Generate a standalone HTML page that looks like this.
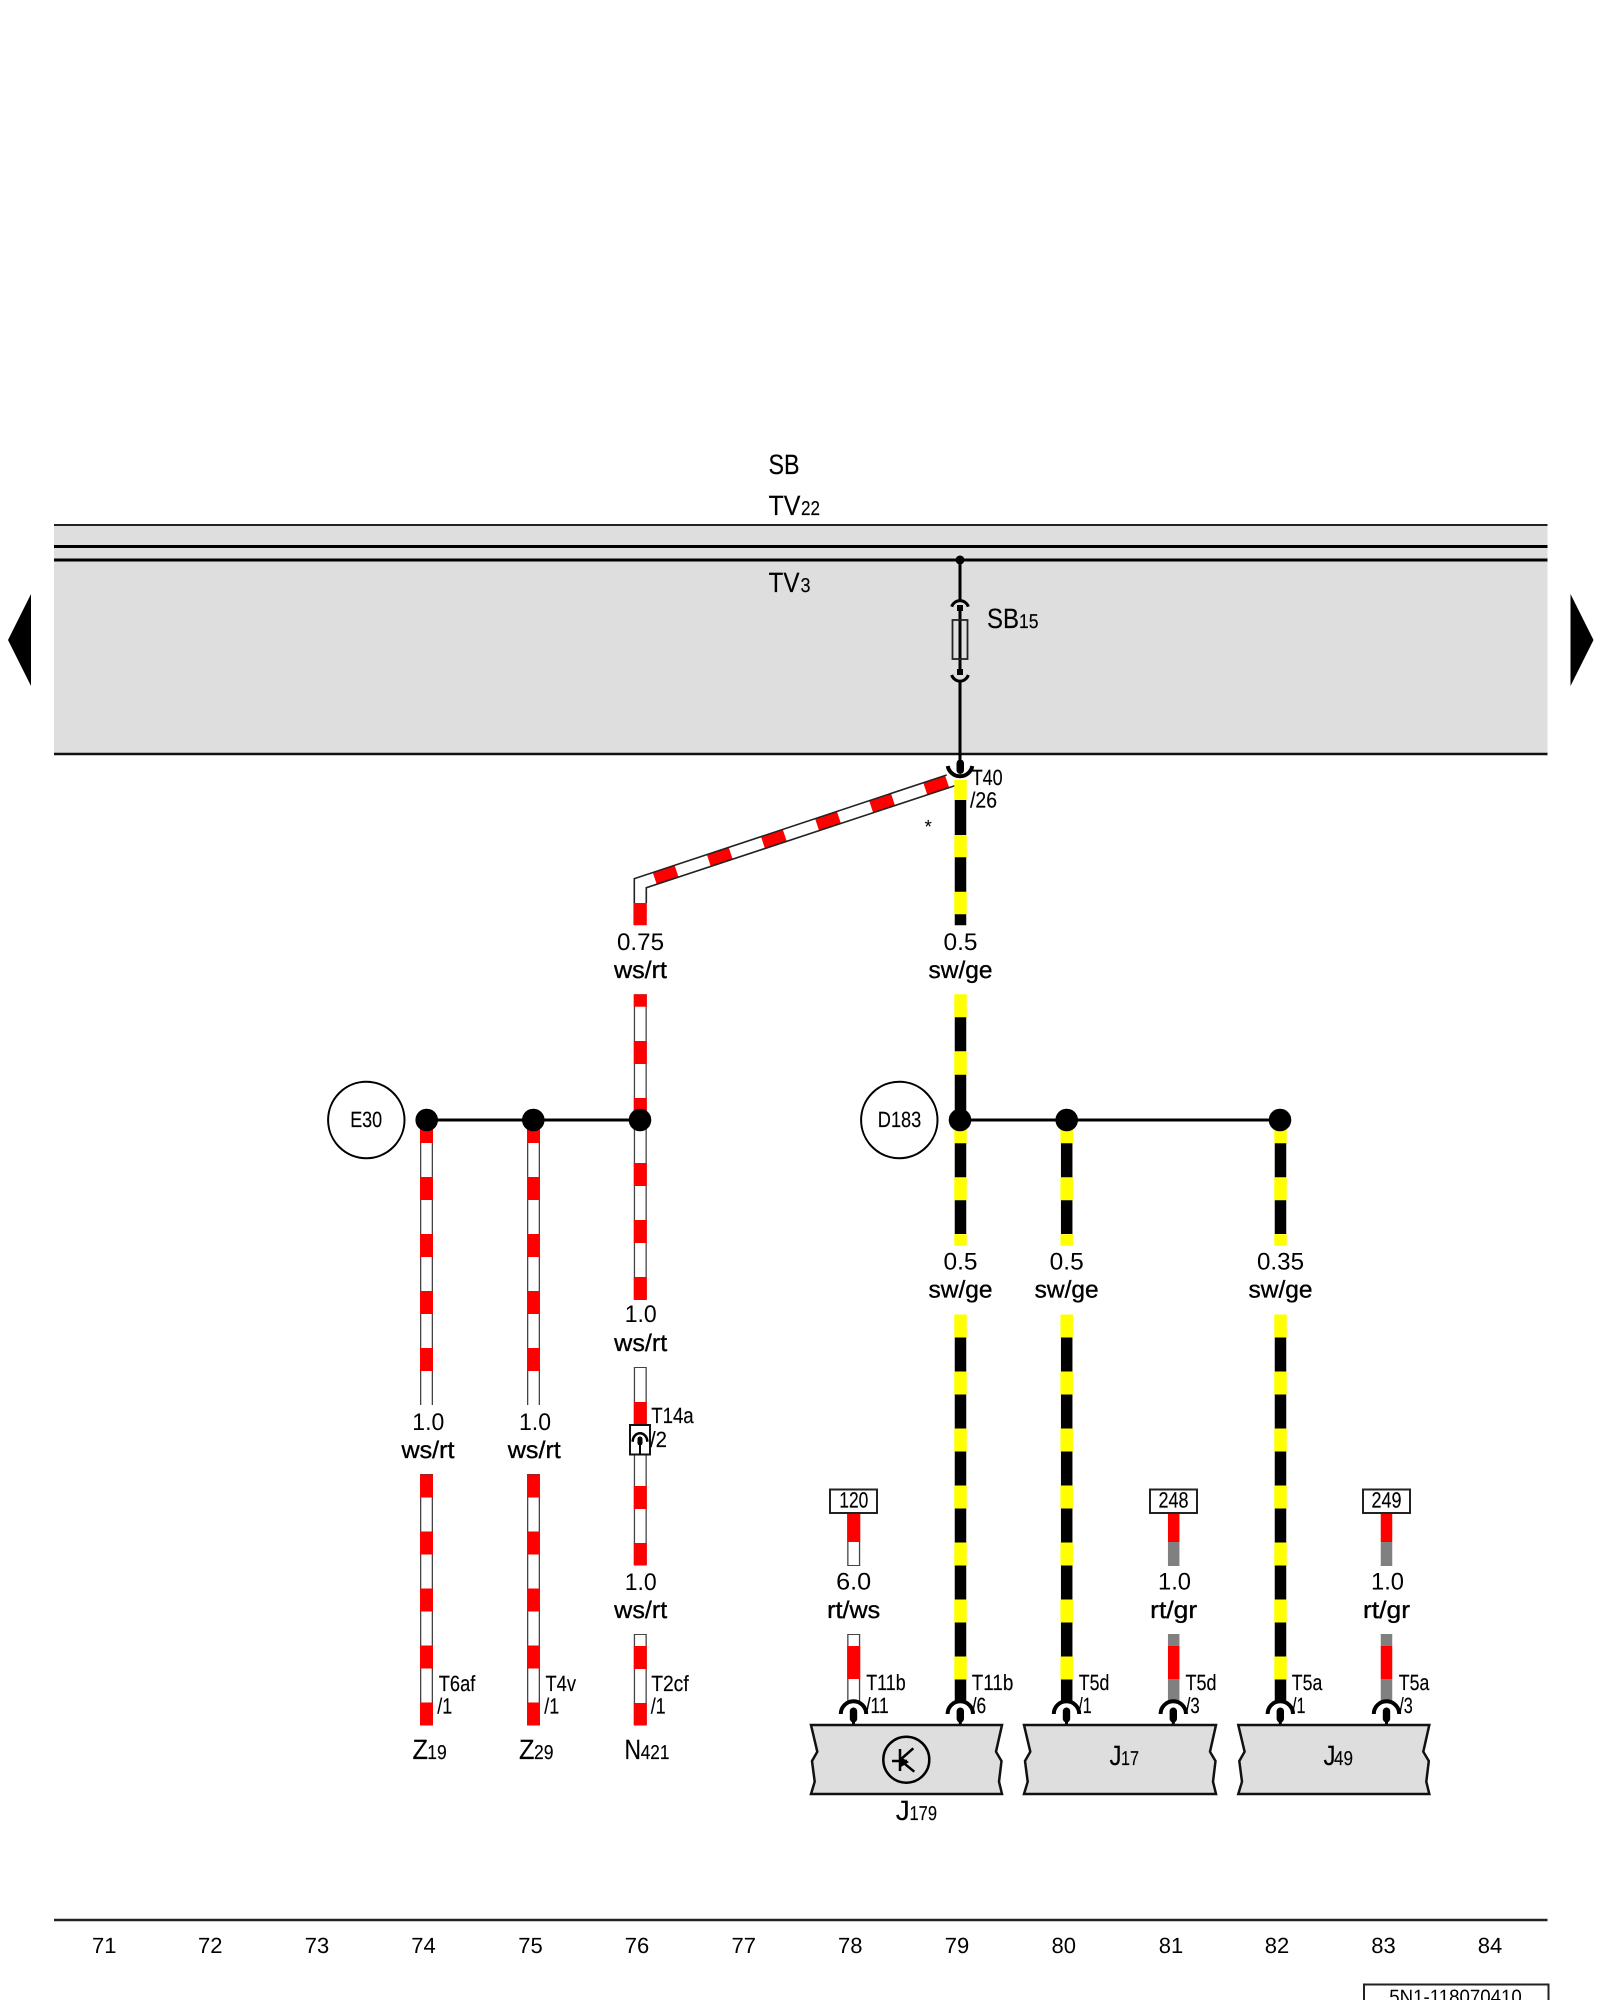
<!DOCTYPE html>
<html><head><meta charset="utf-8"><title>Wiring diagram</title>
<style>
html,body{margin:0;padding:0;background:#fff}
svg{display:block}
text{font-family:"Liberation Sans",Arial,sans-serif;fill:#000;text-rendering:geometricPrecision}
.b{font-size:28px;stroke:#000;stroke-width:.15}.s{font-size:20px;stroke:#000;stroke-width:.15}.l{font-size:22px;stroke:#000;stroke-width:.15}.v{font-size:24px;text-anchor:middle}
.c{font-size:24px;text-anchor:middle;stroke:#000;stroke-width:.35}
.n{font-size:22px;text-anchor:middle}
.w{fill:none}
</style></head><body>
<svg width="1600" height="2000" viewBox="0 0 1600 2000" xmlns="http://www.w3.org/2000/svg">
<defs>
<g id="cn"><path d="M-12.7-11A12.7 12.7 0 0 1 12.7-11" fill="none" stroke="#000" stroke-width="4"/><rect x="-3.700" y="-17.500" width="7.400" height="15" rx="3.700"/><path d="M0-5V0" stroke="#000" stroke-width="3"/></g>
</defs>
<!-- bus -->
<rect x="54" y="525" width="1493.500" height="229" fill="#dedede"/>
<path d="M54 525H1547.500" stroke="#222" stroke-width="2"/>
<path d="M54 546.500H1547.500M54 560H1547.500" stroke="#000" stroke-width="3"/>
<path d="M54 754H1547.500" stroke="#111" stroke-width="2.500"/>
<polygon points="8,640 31,594 31,686"/>
<polygon points="1593.500,640 1570.500,594 1570.500,686"/>
<text class="b" x="768.500" y="474" textLength="31" lengthAdjust="spacingAndGlyphs">SB</text>
<text class="b" x="768.500" y="515" textLength="32" lengthAdjust="spacingAndGlyphs">TV</text><text class="s" x="801" y="515" textLength="19" lengthAdjust="spacingAndGlyphs">22</text>
<text class="b" x="768.500" y="592" textLength="31" lengthAdjust="spacingAndGlyphs">TV</text><text class="s" x="800.500" y="592" textLength="10" lengthAdjust="spacingAndGlyphs">3</text>
<text class="b" x="987" y="628" textLength="32" lengthAdjust="spacingAndGlyphs">SB</text><text class="s" x="1019" y="628" textLength="19.500" lengthAdjust="spacingAndGlyphs">15</text>
<!-- fuse -->
<circle cx="960" cy="560" r="4.500"/>
<path d="M960 560V602M960 608V672M960 681V762" stroke="#000" stroke-width="3"/>
<path d="M951.700 606.700A8.700 8.700 0 0 1 968.300 606.700M951.700 675A8.700 8.700 0 0 0 968.300 675" fill="none" stroke="#000" stroke-width="3"/>
<rect x="957" y="605" width="6" height="6"/><rect x="957" y="669" width="6" height="6"/>
<rect x="952.500" y="620" width="15" height="39" fill="none" stroke="#222" stroke-width="1.800"/>

<!-- diagonal ws/rt -->
<polygon points="634.300,878.700 946.700,775 962.300,783.300 646.300,887.700 646.300,925 634.300,925" fill="#fff"/>
<path class="w" d="M654.800 878.600L948.200 781.400" stroke="#f00" stroke-width="12" stroke-dasharray="23 34"/>
<path class="w" d="M634.300 925V878.700L946.700 775M646.300 903V887.700L962.300 783.300" stroke="#222" stroke-width="1.600"/>
<path d="M640.300 903V925.300" stroke="#f00" stroke-width="13"/>

<!-- top black/yellow -->
<path d="M960.500 800V925.300" stroke="#000" stroke-width="11.500"/>
<path d="M960.500 780V800M960.500 835V857.300M960.500 891.700V914.300" stroke="#ff0" stroke-width="12.500"/>
<path d="M947.700 766A12.500 12.500 0 0 0 972.300 766" fill="none" stroke="#000" stroke-width="4"/>
<rect x="956.500" y="759.500" width="7.500" height="14.500" rx="3.700"/>
<text class="l" x="971.700" y="785" textLength="31" lengthAdjust="spacingAndGlyphs">T40</text>
<text class="l" x="970" y="807.500" textLength="27" lengthAdjust="spacingAndGlyphs">/26</text>
<text x="924.500" y="833" font-size="19">*</text>

<text class="v" x="640.500" y="950" textLength="47" lengthAdjust="spacingAndGlyphs">0.75</text>
<text class="c" x="640.500" y="978" textLength="53" lengthAdjust="spacingAndGlyphs">ws/rt</text>
<text class="v" x="960.500" y="950" textLength="34" lengthAdjust="spacingAndGlyphs">0.5</text>
<text class="c" x="960.500" y="978" textLength="64" lengthAdjust="spacingAndGlyphs">sw/ge</text>

<!-- ws/rt wire bases -->
<path class="w" stroke="#444" stroke-width="13" d="M426.500 1120V1405M533.500 1120V1405M426.500 1474V1725M533.500 1474V1725M640.300 994.300V1299M640.300 1367V1565M640.300 1634V1725M853.700 1634V1703M853.700 1513V1566"/>
<path class="w" stroke="#fff" stroke-width="10.400" d="M426.500 1120V1405M533.500 1120V1405M426.500 1474.500V1725.500M533.500 1474.500V1725.500M640.300 995V1299M640.300 1368V1565M640.300 1635V1725M853.700 1635V1703M853.700 1513V1565"/>
<!-- red dashes -->
<g class="w" stroke="#f00" stroke-width="13" fill="none">
<path stroke-dasharray="23 34" d="M426.500 1120V1405"/>
<path stroke-dasharray="23 34" d="M533.500 1120V1405"/>
<path stroke-dasharray="23 34" d="M426.500 1474.500V1725.500"/>
<path stroke-dasharray="23 34" d="M533.500 1474.500V1725.500"/>
<path d="M640.300 994.300V1006.700"/>
<path stroke-dasharray="23 34" d="M640.300 1041V1121"/>
<path stroke-dasharray="23 34" d="M640.300 1163V1300"/>
<path d="M640.300 1402V1425"/>
<path stroke-dasharray="23 34" d="M640.300 1486V1565.500"/>
<path stroke-dasharray="23 34" d="M640.300 1646V1725.500"/>
<path d="M853.700 1513V1542M853.700 1646V1679"/>
</g>

<!-- black/yellow wires -->
<path class="w" stroke="#000" stroke-width="11.500" d="M960.500 1017V1120M960.500 1120V1234M1066.700 1120V1234M1280.500 1120V1234M960.500 1315V1703M1066.700 1315V1703M1280.500 1315V1703"/>
<g fill="none" stroke="#ff0" stroke-width="12.500">
<path d="M960.500 994.300V1017.300M960.500 1051.300V1074.700"/>
<path stroke-dasharray="23 34" d="M960.500 1120.300V1245.700"/>
<path stroke-dasharray="23 34" d="M1066.700 1120.300V1245.700"/>
<path stroke-dasharray="23 34" d="M1280.500 1120.300V1245.700"/>
<path stroke-dasharray="23 34" d="M960.500 1314.500V1680"/>
<path stroke-dasharray="23 34" d="M1066.700 1314.500V1680"/>
<path stroke-dasharray="23 34" d="M1280.500 1314.500V1680"/>
</g>

<!-- rt/gr wires -->
<g fill="none" stroke-width="11.500">
<path stroke="#f00" d="M1173.700 1513V1542M1173.700 1646V1679M1386.500 1513V1542M1386.500 1646V1679"/>
<path stroke="#808080" d="M1173.700 1542V1566M1173.700 1634V1646M1173.700 1679V1703M1386.500 1542V1566M1386.500 1634V1646M1386.500 1679V1703"/>
</g>

<!-- junction lines and dots -->
<path d="M426.700 1120H640M960 1120H1280" stroke="#000" stroke-width="3"/>
<circle cx="426.700" cy="1120" r="11.300"/><circle cx="533.300" cy="1120" r="11.300"/><circle cx="640" cy="1120" r="11.300"/>
<circle cx="960" cy="1120" r="11.300"/><circle cx="1066.700" cy="1120" r="11.300"/><circle cx="1280" cy="1120" r="11.300"/>
<circle cx="366.300" cy="1120" r="38.200" fill="none" stroke="#000" stroke-width="2"/>
<circle cx="899.300" cy="1120" r="38.200" fill="none" stroke="#000" stroke-width="2"/>
<text class="l" x="350.200" y="1127" textLength="32" lengthAdjust="spacingAndGlyphs">E30</text>
<text class="l" x="877.800" y="1127" textLength="43.500" lengthAdjust="spacingAndGlyphs">D183</text>

<!-- cross-section labels -->
<text class="v" x="428.300" y="1430" textLength="32" lengthAdjust="spacingAndGlyphs">1.0</text>
<text class="c" x="428" y="1458" textLength="53" lengthAdjust="spacingAndGlyphs">ws/rt</text>
<text class="v" x="535" y="1430" textLength="32" lengthAdjust="spacingAndGlyphs">1.0</text>
<text class="c" x="534.300" y="1458" textLength="53" lengthAdjust="spacingAndGlyphs">ws/rt</text>
<text class="v" x="640.700" y="1322" textLength="32" lengthAdjust="spacingAndGlyphs">1.0</text>
<text class="c" x="640.700" y="1351" textLength="53" lengthAdjust="spacingAndGlyphs">ws/rt</text>
<text class="v" x="640.700" y="1590" textLength="32" lengthAdjust="spacingAndGlyphs">1.0</text>
<text class="c" x="640.700" y="1618" textLength="53" lengthAdjust="spacingAndGlyphs">ws/rt</text>
<text class="v" x="960.500" y="1269.300" textLength="34" lengthAdjust="spacingAndGlyphs">0.5</text>
<text class="c" x="960.500" y="1297.300" textLength="64" lengthAdjust="spacingAndGlyphs">sw/ge</text>
<text class="v" x="1066.700" y="1269.300" textLength="34" lengthAdjust="spacingAndGlyphs">0.5</text>
<text class="c" x="1066.700" y="1297.300" textLength="64" lengthAdjust="spacingAndGlyphs">sw/ge</text>
<text class="v" x="1280.500" y="1269.300" textLength="47" lengthAdjust="spacingAndGlyphs">0.35</text>
<text class="c" x="1280.500" y="1297.300" textLength="64" lengthAdjust="spacingAndGlyphs">sw/ge</text>
<text class="v" x="853.700" y="1589.500" textLength="35" lengthAdjust="spacingAndGlyphs">6.0</text>
<text class="c" x="853.700" y="1618" textLength="53" lengthAdjust="spacingAndGlyphs">rt/ws</text>
<text class="v" x="1174.500" y="1589.500" textLength="33" lengthAdjust="spacingAndGlyphs">1.0</text>
<text class="c" x="1173.700" y="1618" textLength="47" lengthAdjust="spacingAndGlyphs">rt/gr</text>
<text class="v" x="1387.500" y="1589.500" textLength="33" lengthAdjust="spacingAndGlyphs">1.0</text>
<text class="c" x="1386.500" y="1618" textLength="47" lengthAdjust="spacingAndGlyphs">rt/gr</text>

<!-- T14a connector -->
<rect x="630" y="1425" width="20" height="29.500" fill="#fff" stroke="#111" stroke-width="2"/>
<path d="M632.700 1441.700A7.300 8.500 0 0 1 647.300 1441.700" fill="none" stroke="#000" stroke-width="2.500"/>
<path d="M640 1438V1454.500" stroke="#000" stroke-width="2"/>
<rect x="637.500" y="1436.500" width="5" height="9" rx="2.500"/>
<text class="l" x="651.200" y="1423" textLength="42.500" lengthAdjust="spacingAndGlyphs">T14a</text>
<text class="l" x="650" y="1447" textLength="17" lengthAdjust="spacingAndGlyphs">/2</text>

<!-- pin labels -->
<text class="l" x="438.800" y="1691" textLength="36.500" lengthAdjust="spacingAndGlyphs">T6af</text>
<text class="l" x="437.300" y="1713.500" textLength="15" lengthAdjust="spacingAndGlyphs">/1</text>
<text class="l" x="545.500" y="1691" textLength="30.500" lengthAdjust="spacingAndGlyphs">T4v</text>
<text class="l" x="544.300" y="1713.500" textLength="15" lengthAdjust="spacingAndGlyphs">/1</text>
<text class="l" x="651.200" y="1691" textLength="37.500" lengthAdjust="spacingAndGlyphs">T2cf</text>
<text class="l" x="650.700" y="1713.500" textLength="15" lengthAdjust="spacingAndGlyphs">/1</text>
<text class="b" x="412.500" y="1759" textLength="15.500" lengthAdjust="spacingAndGlyphs">Z</text><text class="s" x="427.300" y="1759" textLength="19.500" lengthAdjust="spacingAndGlyphs">19</text>
<text class="b" x="519" y="1759" textLength="15.500" lengthAdjust="spacingAndGlyphs">Z</text><text class="s" x="534" y="1759" textLength="19.500" lengthAdjust="spacingAndGlyphs">29</text>
<text class="b" x="624.500" y="1759" textLength="16.500" lengthAdjust="spacingAndGlyphs">N</text><text class="s" x="640.700" y="1759" textLength="28.700" lengthAdjust="spacingAndGlyphs">421</text>

<!-- tag boxes -->
<g fill="#fff" stroke="#222" stroke-width="2">
<rect x="830" y="1489.500" width="47" height="23.500"/>
<rect x="1150" y="1489.500" width="47" height="23.500"/>
<rect x="1363" y="1489.500" width="47" height="23.500"/>
</g>
<text class="l" x="839.300" y="1507.500" textLength="29" lengthAdjust="spacingAndGlyphs">120</text>
<text class="l" x="1158.500" y="1507.500" textLength="30" lengthAdjust="spacingAndGlyphs">248</text>
<text class="l" x="1371.500" y="1507.500" textLength="30" lengthAdjust="spacingAndGlyphs">249</text>

<text class="l" x="866.200" y="1690" textLength="39.500" lengthAdjust="spacingAndGlyphs">T11b</text>
<text class="l" x="865.700" y="1713" textLength="23" lengthAdjust="spacingAndGlyphs">/11</text>
<text class="l" x="971.800" y="1690" textLength="41.500" lengthAdjust="spacingAndGlyphs">T11b</text>
<text class="l" x="971.700" y="1713" textLength="14.500" lengthAdjust="spacingAndGlyphs">/6</text>
<text class="l" x="1078.800" y="1690" textLength="30.500" lengthAdjust="spacingAndGlyphs">T5d</text>
<text class="l" x="1078.300" y="1713" textLength="13.500" lengthAdjust="spacingAndGlyphs">/1</text>
<text class="l" x="1185.500" y="1690" textLength="31" lengthAdjust="spacingAndGlyphs">T5d</text>
<text class="l" x="1185.700" y="1713" textLength="14" lengthAdjust="spacingAndGlyphs">/3</text>
<text class="l" x="1291.800" y="1690" textLength="30.500" lengthAdjust="spacingAndGlyphs">T5a</text>
<text class="l" x="1292" y="1713" textLength="13.500" lengthAdjust="spacingAndGlyphs">/1</text>
<text class="l" x="1398.800" y="1690" textLength="30.500" lengthAdjust="spacingAndGlyphs">T5a</text>
<text class="l" x="1399.300" y="1713" textLength="13.500" lengthAdjust="spacingAndGlyphs">/3</text>

<!-- connectors -->
<use href="#cn" x="853.500" y="1725"/>
<use href="#cn" x="960.300" y="1725"/>
<use href="#cn" x="1066.500" y="1725"/>
<use href="#cn" x="1173.300" y="1725"/>
<use href="#cn" x="1280.300" y="1725"/>
<use href="#cn" x="1386.500" y="1725"/>

<!-- control units -->
<g fill="#dedede" stroke="#111" stroke-width="2.500" stroke-linejoin="miter">
<polygon points="811,1725 1002,1725 996,1751.700 1001.500,1761 999,1781.700 1002,1794 811,1794 814.700,1781.700 812,1761 817.300,1751.700"/>
<polygon points="1024,1725 1216,1725 1210,1751.700 1215.500,1761 1213,1781.700 1216,1794 1024,1794 1027.700,1781.700 1025,1761 1030.300,1751.700"/>
<polygon points="1238.300,1725 1429.300,1725 1423.300,1751.700 1428.800,1761 1426.300,1781.700 1429.300,1794 1238.300,1794 1242,1781.700 1239.300,1761 1244.600,1751.700"/>
</g>
<circle cx="906.300" cy="1759.700" r="23" fill="none" stroke="#000" stroke-width="2.500"/>
<path d="M900 1749V1771M892 1761H907M900 1760L913.300 1748.300M900 1760L914.300 1771.700" fill="none" stroke="#000" stroke-width="2.500"/>
<polygon points="899,1756 909,1762 901,1767"/>
<text class="b" x="895.700" y="1820" textLength="14" lengthAdjust="spacingAndGlyphs">J</text><text class="s" x="909.500" y="1820" textLength="27.500" lengthAdjust="spacingAndGlyphs">179</text>
<text class="b" x="1109.500" y="1765" textLength="12" lengthAdjust="spacingAndGlyphs">J</text><text class="s" x="1121" y="1765" textLength="18" lengthAdjust="spacingAndGlyphs">17</text>
<text class="b" x="1323.500" y="1765" textLength="12" lengthAdjust="spacingAndGlyphs">J</text><text class="s" x="1334" y="1765" textLength="19" lengthAdjust="spacingAndGlyphs">49</text>

<!-- footer -->
<path d="M54 1920H1547.500" stroke="#222" stroke-width="2.500"/>
<text class="n" x="104.300" y="1953">71</text><text class="n" x="210.300" y="1953">72</text><text class="n" x="317" y="1953">73</text><text class="n" x="423.500" y="1953">74</text><text class="n" x="530.500" y="1953">75</text><text class="n" x="637" y="1953">76</text><text class="n" x="743.700" y="1953">77</text><text class="n" x="850.300" y="1953">78</text><text class="n" x="957" y="1953">79</text><text class="n" x="1063.700" y="1953">80</text><text class="n" x="1171" y="1953">81</text><text class="n" x="1277" y="1953">82</text><text class="n" x="1383.500" y="1953">83</text><text class="n" x="1490" y="1953">84</text>
<rect x="1364" y="1984.500" width="184.500" height="30" fill="#fff" stroke="#222" stroke-width="2"/>
<text x="1389.300" y="2003.500" font-size="20" textLength="132.500" lengthAdjust="spacingAndGlyphs">5N1-118070410</text>
</svg>
</body></html>
